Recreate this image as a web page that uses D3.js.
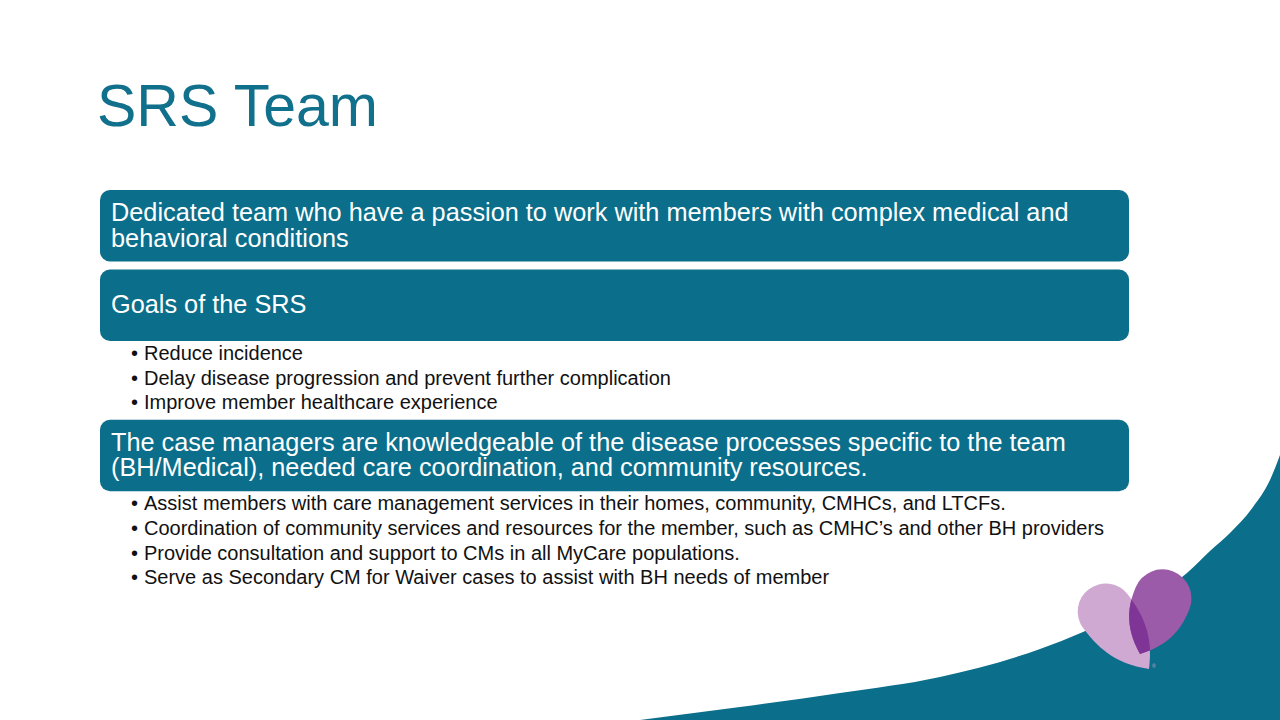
<!DOCTYPE html>
<html>
<head>
<meta charset="utf-8">
<script src="https://cdn.jsdelivr.net/npm/d3@7"></script>
<style>
  html, body { margin: 0; padding: 0; background: #fff; overflow: hidden; }
  svg { display: block; font-family: "Liberation Sans", Arial, sans-serif; }
</style>
</head>
<body>
<div id="slide"></div>
<script>
// Slide content
const title = "SRS Team";

const headings = [
    ["Dedicated team who have a passion to work with members with complex medical and", "behavioral conditions"],
    ["Goals of the SRS"],
    ["The case managers are knowledgeable of the disease processes specific to the team", "(BH/Medical), needed care coordination, and community resources."]
];

const goalBullets = [
    "Reduce incidence",
    "Delay disease progression and prevent further complication",
    "Improve member healthcare experience"
];

const caseManagerBullets = [
    "Assist members with care management services in their homes, community, CMHCs, and LTCFs.",
    "Coordination of community services and resources for the member, such as CMHC\u2019s and other BH providers",
    "Provide consultation and support to CMs in all MyCare populations.",
    "Serve as Secondary CM for Waiver cases to assist with BH needs of member"
];

const bulletsBySection = [[], goalBullets, caseManagerBullets];

// decorative wave edge (bottom right)
const waveEdge = [[640, 720], [740, 707], [840, 693], [940, 677], [1040, 649], [1083, 632],
    [1140, 603], [1187, 573], [1210, 551], [1230, 533], [1253, 507], [1270, 480], [1280, 455]];

const W = 1280, H = 720;
const teal = "#0b6e8a";

const svg = d3.select("#slide").append("svg")
    .attr("width", W)
    .attr("height", H);

// Wave
const waveLine = d3.line().curve(d3.curveMonotoneX);
svg.append("path")
    .attr("class", "wave")
    .attr("d", waveLine(waveEdge) + `L${W},${H}L640,${H}Z`)
    .attr("fill", teal);

// Title
svg.append("text")
    .attr("x", 97)
    .attr("y", 126)
    .attr("font-size", 59)
    .attr("fill", "#11708b")
    .text(title);

// Sections layout
const boxX = 100, boxW = 1029, boxH = 71.5, gap = 8, lineH = 24.6;
let y = 190;
const sections = headings.map((lines, i) => {
    const s = { lines, top: y, bullets: bulletsBySection[i] };
    y += boxH;
    if (s.bullets.length) {
        s.bulletTop = y;
        y += s.bullets.length * lineH + 5;
    } else {
        y += gap;
    }
    return s;
});

const sec = svg.selectAll("g.section")
    .data(sections)
    .join("g")
    .attr("class", "section");

sec.append("rect")
    .attr("x", boxX)
    .attr("y", d => d.top)
    .attr("width", boxW)
    .attr("height", boxH)
    .attr("rx", 10)
    .attr("fill", teal);

sec.append("text")
    .attr("fill", "#fff")
    .attr("font-size", 25.3)
    .selectAll("tspan")
    .data(d => d.lines.map((t, j) => ({ t, j, d })))
    .join("tspan")
    .attr("x", 111)
    .attr("y", o => o.d.lines.length === 1 ? o.d.top + 43 : o.d.top + 31 + o.j * 25.5)
    .text(o => o.t);

sec.selectAll("text.bullet")
    .data(d => d.bullets.map((t, j) => ({ t, j, d })))
    .join("text")
    .attr("class", "bullet")
    .attr("font-size", 20)
    .attr("fill", "#111")
    .attr("y", o => o.d.bulletTop + 19 + o.j * lineH)
    .call(t => t.append("tspan").attr("x", 131).text("\u2022"))
    .call(t => t.append("tspan").attr("x", 144).text(o => o.t));

// Heart logo: two teardrop lobes
function lobe(r, L) {
    return `M0,0 C${-r * 0.9},${-L * 0.35} ${-r},${-L * 0.7} ${-r},${-L}` +
        ` A${r},${r} 0 1 1 ${r},${-L}` +
        ` C${r},${-L * 0.7} ${r * 0.9},${-L * 0.35} 0,0 Z`;
}
const lobes = [
    { tip: [1149, 669], r: 28, L: 72, a: -37, fill: "#d0a9d2" },
    { tip: [1140, 654], r: 29, L: 60, a: 22, fill: "#9c5ba9" }
];
const defs = svg.append("defs");
defs.append("clipPath").attr("id", "leftLobe")
    .append("path")
    .attr("d", lobe(lobes[0].r, lobes[0].L))
    .attr("transform", `translate(${lobes[0].tip}) rotate(${lobes[0].a})`);

const heart = svg.append("g").attr("class", "heart");
heart.selectAll("path.lobe")
    .data(lobes)
    .join("path")
    .attr("class", "lobe")
    .attr("d", d => lobe(d.r, d.L))
    .attr("transform", d => `translate(${d.tip}) rotate(${d.a})`)
    .attr("fill", d => d.fill);
heart.append("g").attr("clip-path", "url(#leftLobe)")
    .append("path")
    .attr("d", lobe(lobes[1].r, lobes[1].L))
    .attr("transform", `translate(${lobes[1].tip}) rotate(${lobes[1].a})`)
    .attr("fill", "#7f3596");
heart.append("text")
    .attr("x", 1152)
    .attr("y", 668)
    .attr("font-size", 5)
    .attr("fill", "#cfa6d0")
    .text("\u00ae");
</script>
</body>
</html>
